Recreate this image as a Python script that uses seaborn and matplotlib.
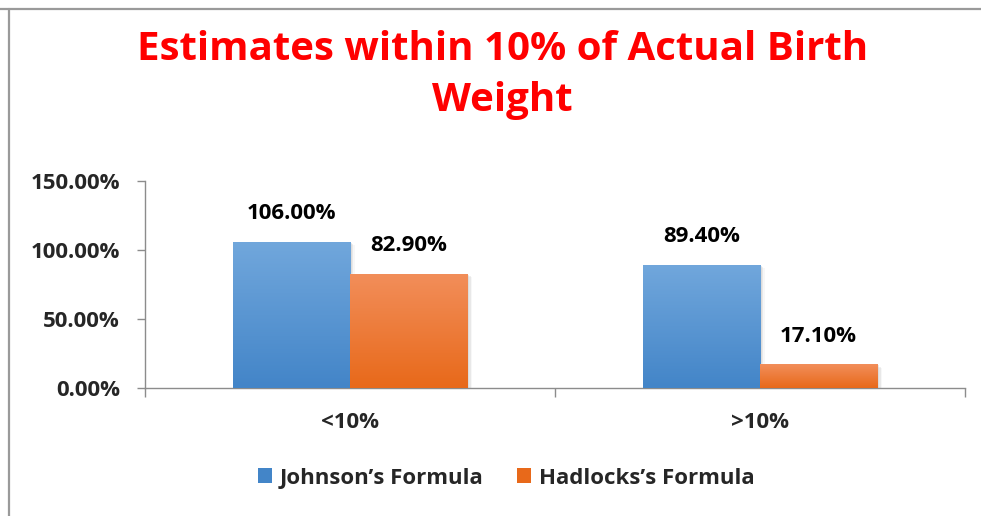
import numpy as np
import pandas as pd
import seaborn as sns
import matplotlib.pyplot as plt
from matplotlib.lines import Line2D
from matplotlib.patches import Patch

# chart data
categories = ['<10%', '>10%']
series = ["Johnson\u2019s Formula", "Hadlocks\u2019s Formula"]
johnson = [106.0, 89.4]
hadlock = [82.9, 17.1]

df = pd.DataFrame({
    'group': categories * 2,
    'formula': [series[0]] * 2 + [series[1]] * 2,
    'value': johnson + hadlock,
})

sns.set_theme(style='white')
plt.rcParams['font.family'] = ['Open Sans', 'DejaVu Sans']
plt.rcParams['font.weight'] = 'bold'

fig = plt.figure(figsize=(9.81, 5.16), dpi=100)
ax = fig.add_axes([0.1478, 0.2481, 0.8359, 0.4011])

# top/bottom colours of the gradient for each series
grad = {series[0]: ('#71a7dc', '#4385c8'),
        series[1]: ('#f28e5a', '#e8691a')}

sns.barplot(data=df, x='group', y='value', hue='formula', order=categories,
            hue_order=series, palette=[grad[s][1] for s in series],
            width=0.572, ax=ax, legend=False, saturation=1)

# fill the bars with vertical gradients
for cont, s in zip(ax.containers, series):
    top, bot = grad[s]
    cmap = sns.blend_palette([bot, top], as_cmap=True)
    for bar in cont:
        x0, y0 = bar.get_x(), bar.get_y()
        w, h = bar.get_width(), bar.get_height()
        # soft shadow
        for k, a in enumerate([0.25, 0.15, 0.08]):
            ax.bar(x0 + w / 2 + 0.004 * (k + 1), h, width=w, bottom=-0.8 * (k + 1),
                   color='#9a9a9a', alpha=a, zorder=1, linewidth=0)
        bar.set_zorder(2)
        img = ax.imshow(np.linspace(0, 1, 100).reshape(-1, 1), cmap=cmap,
                        origin='lower', aspect='auto',
                        extent=[x0, x0 + w, y0, y0 + h], zorder=3)
        img.set_clip_path(bar)
    for bar in cont:
        v = bar.get_height()
        ax.annotate(f'{v:.2f}%', (bar.get_x() + bar.get_width() / 2, v),
                    xytext=(0, 20), textcoords='offset points',
                    ha='center', va='center', fontsize=16, fontweight='bold',
                    color='black')

ax.set_xlim(-0.5, 1.5)
ax.set_ylim(0, 150)
ax.set_yticks([0, 50, 100, 150])
ax.set_yticklabels([f'{t:.2f}%' for t in [0, 50, 100, 150]])
ax.set_xlabel('')
ax.set_ylabel('')
ax.set_xticks([-0.5, 0.5, 1.5], minor=True)
ax.tick_params(axis='x', which='major', length=0, pad=17, labelsize=16)
ax.tick_params(axis='x', which='minor', length=6.5, width=1, color='#8c8c8c',
               direction='out', bottom=True)
ax.tick_params(axis='y', length=6, width=1, color='#8c8c8c', direction='out',
               left=True, labelsize=16, pad=12)
for lbl in ax.get_xticklabels() + ax.get_yticklabels():
    lbl.set_fontweight('bold')
sns.despine(ax=ax)
for sp in ('left', 'bottom'):
    ax.spines[sp].set_color('#8c8c8c')
    ax.spines[sp].set_linewidth(1)

fig.text(0.512, 0.855, 'Estimates within 10% of Actual Birth\nWeight',
         ha='center', va='center', color='#ff0000', fontsize=29,
         fontweight='bold', linespacing=1.42)

handles = [Patch(facecolor=grad[s][1], edgecolor='none') for s in series]
fig.legend(handles, series, loc='center', bbox_to_anchor=(0.516, 0.0736),
           ncol=2, frameon=False, handlelength=0.64,
           handleheight=0.64, handletextpad=0.35, columnspacing=1.5,
           prop={'weight': 'bold', 'size': 16})

# frame of the original screenshot
fig.add_artist(Line2D([0, 1], [1 - 9 / 516] * 2, color='#9a9a9a', lw=1.6,
                      transform=fig.transFigure))
fig.add_artist(Line2D([9 / 981] * 2, [0, 1 - 9 / 516], color='#9a9a9a',
                      lw=1.6, transform=fig.transFigure))

fig.savefig('out.png', dpi=100)
